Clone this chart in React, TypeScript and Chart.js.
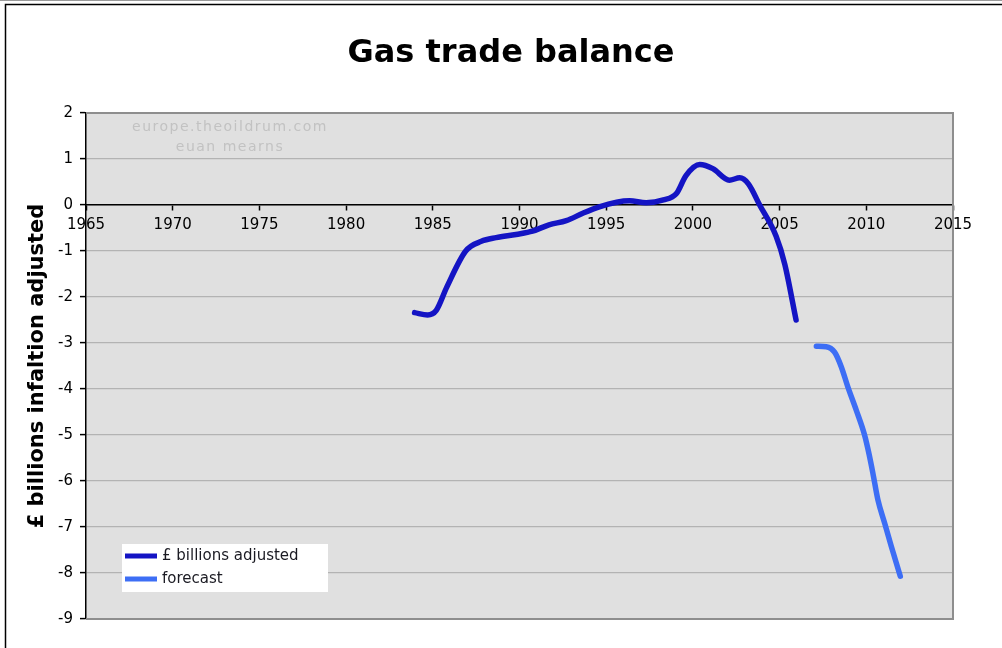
import React, { useEffect, useRef } from "react";
import { Chart, registerables } from "chart.js";

Chart.register(...registerables);

// ---------- data ----------
const TITLE = "Gas trade balance";
const Y_TITLE = "£ billions infaltion adjusted";
const WATERMARK = ["europe.theoildrum.com", "euan mearns"];
const SERIES_LABELS = ["£ billions adjusted", "forecast"];
const SERIES_COLORS = ["#1414c4", "#3d6ef5"];

const X_MIN = 1965;
const X_MAX = 2015;
const X_STEP = 5;
const Y_MIN = -9;
const Y_MAX = 2;
const Y_STEP = 1;

const mainYears = [
  1983.95, 1984.7, 1985.2, 1985.8, 1986.9, 1987.8, 1988.65, 1989.8, 1990.75,
  1991.7, 1992.7, 1993.65, 1994.6, 1995.6, 1996.35, 1997.3, 1998.3, 1999.05,
  1999.6, 2000.4, 2001.15, 2002.1, 2002.7, 2003.2, 2003.85, 2004.8, 2005.3,
  2005.95,
];
const mainValues = [
  -2.34, -2.39, -2.29, -1.79, -1.0, -0.79, -0.71, -0.64, -0.57, -0.43, -0.34,
  -0.18, -0.04, 0.06, 0.09, 0.05, 0.11, 0.25, 0.64, 0.88, 0.79, 0.54, 0.59,
  0.46, 0.0, -0.68, -1.29, -2.5,
];

const forecastYears = [
  2007.12, 2007.69, 2008.17, 2008.56, 2008.94, 2009.42, 2009.9, 2010.15,
  2010.38, 2010.67, 2011.06, 2011.44, 2011.96,
];
const forecastValues = [
  -3.07, -3.08, -3.2, -3.52, -3.96, -4.46, -5.0, -5.4, -5.83, -6.41, -6.92,
  -7.42, -8.07,
];

const FONT = "'DejaVu Sans', Verdana, sans-serif";

const decorPlugin = {
  id: "decor",
  beforeDraw(chart: any) {
    const { ctx, chartArea: a, width, height } = chart;
    ctx.save();
    ctx.fillStyle = "#ffffff";
    ctx.fillRect(0, 0, width, height);
    // page strip + outer frame
    ctx.strokeStyle = "#9a9a9a";
    ctx.lineWidth = 1;
    ctx.beginPath();
    ctx.moveTo(0, 0.5);
    ctx.lineTo(width, 0.5);
    ctx.stroke();
    ctx.strokeStyle = "#000000";
    ctx.lineWidth = 1.5;
    ctx.strokeRect(5.5, 4.5, width + 20, height + 20);
    // plot background
    ctx.fillStyle = "#e0e0e0";
    ctx.fillRect(a.left, a.top, a.right - a.left, a.bottom - a.top);
    ctx.restore();
  },
  beforeDatasetsDraw(chart: any) {
    const { ctx } = chart;
    ctx.save();
    ctx.fillStyle = "#c2c2c2";
    ctx.font = `14px ${FONT}`;
    ctx.textAlign = "center";
    ctx.textBaseline = "middle";
    try {
      (ctx as any).letterSpacing = "1.5px";
    } catch (e) {}
    WATERMARK.forEach((t, i) => ctx.fillText(t, 230, 127 + i * 20));
    ctx.restore();
  },
  afterDatasetsDraw(chart: any) {
    const { ctx, chartArea: a } = chart;
    ctx.save();
    // plot frame (top, right, bottom)
    ctx.strokeStyle = "#8e8e8e";
    ctx.lineWidth = 2;
    ctx.beginPath();
    ctx.moveTo(a.left, a.top);
    ctx.lineTo(a.right, a.top);
    ctx.lineTo(a.right, a.bottom);
    ctx.lineTo(a.left, a.bottom);
    ctx.stroke();

    // title
    ctx.fillStyle = "#000000";
    ctx.font = `bold 32px ${FONT}`;
    ctx.textAlign = "center";
    ctx.textBaseline = "alphabetic";
    ctx.fillText(TITLE, 511, 62);

    // y title
    ctx.save();
    ctx.translate(43, (a.top + a.bottom) / 2);
    ctx.rotate(-Math.PI / 2);
    ctx.font = `bold 21px ${FONT}`;
    ctx.textAlign = "center";
    ctx.textBaseline = "alphabetic";
    ctx.fillText(Y_TITLE, 0, 0);
    ctx.restore();

    // legend
    const lx = 122;
    const ly = 544;
    ctx.fillStyle = "#ffffff";
    ctx.fillRect(lx, ly, 206, 48);
    chart.data.datasets.forEach((ds: any, i: number) => {
      const y = ly + 12 + i * 23;
      ctx.strokeStyle = ds.borderColor;
      ctx.lineWidth = 5;
      ctx.lineCap = "butt";
      ctx.beginPath();
      ctx.moveTo(lx + 3, y);
      ctx.lineTo(lx + 35, y);
      ctx.stroke();
      ctx.fillStyle = "#1a1a22";
      ctx.font = `15px ${FONT}`;
      ctx.textAlign = "left";
      ctx.textBaseline = "middle";
      ctx.fillText(ds.label, lx + 40, y);
    });
    ctx.restore();
  },
};

export default function App() {
  const canvasRef = useRef<HTMLCanvasElement | null>(null);

  useEffect(() => {
    if (!canvasRef.current) return;
    const mainData = mainYears.map((x, i) => ({ x, y: mainValues[i] }));
    const fcData = forecastYears.map((x, i) => ({ x, y: forecastValues[i] }));
    const chart = new Chart(canvasRef.current, {
      type: "line",
      data: {
        datasets: [
          {
            label: SERIES_LABELS[0],
            data: mainData,
            borderColor: SERIES_COLORS[0],
            backgroundColor: SERIES_COLORS[0],
            borderWidth: 5.5,
            pointRadius: 0,
            cubicInterpolationMode: "monotone",
            borderCapStyle: "round",
            borderJoinStyle: "round",
          },
          {
            label: SERIES_LABELS[1],
            data: fcData,
            borderColor: SERIES_COLORS[1],
            backgroundColor: SERIES_COLORS[1],
            borderWidth: 5.5,
            pointRadius: 0,
            cubicInterpolationMode: "monotone",
            borderCapStyle: "round",
            borderJoinStyle: "round",
          },
        ],
      },
      options: {
        responsive: false,
        animation: false,
        devicePixelRatio: 1,
        layout: { padding: { left: 26, right: 49, top: 113, bottom: 29 } },
        plugins: {
          legend: { display: false },
          title: { display: false },
          tooltip: { enabled: false },
        },
        scales: {
          x: {
            type: "linear",
            position: { y: 0 } as any,
            min: X_MIN,
            max: X_MAX,
            grid: {
              drawOnChartArea: false,
              tickLength: 5,
              tickColor: "#000000",
              tickWidth: 1.5,
            },
            border: { color: "#000000", width: 1.5 },
            ticks: {
              stepSize: X_STEP,
              padding: 6,
              color: "#000000",
              font: { family: FONT, size: 15 },
              maxRotation: 0,
              autoSkip: false,
              callback: (v: any) => String(v),
            },
          },
          y: {
            type: "linear",
            position: "left",
            min: Y_MIN,
            max: Y_MAX,
            afterFit: (s: any) => {
              s.width = 60;
            },
            grid: {
              color: "#b3b3b3",
              lineWidth: 1.2,
              tickLength: 6,
              tickColor: "#000000",
              tickWidth: 1.5,
            },
            border: { color: "#000000", width: 1.5 },
            ticks: {
              stepSize: Y_STEP,
              padding: 7,
              color: "#000000",
              font: { family: FONT, size: 15 },
            },
          },
        },
      },
      plugins: [decorPlugin],
    });
    return () => chart.destroy();
  }, []);

  return (
    <div style={{ position: "absolute", left: 0, top: 0, width: 1002, height: 648 }}>
      <canvas ref={canvasRef} width={1002} height={648} style={{ display: "block" }} />
    </div>
  );
}
